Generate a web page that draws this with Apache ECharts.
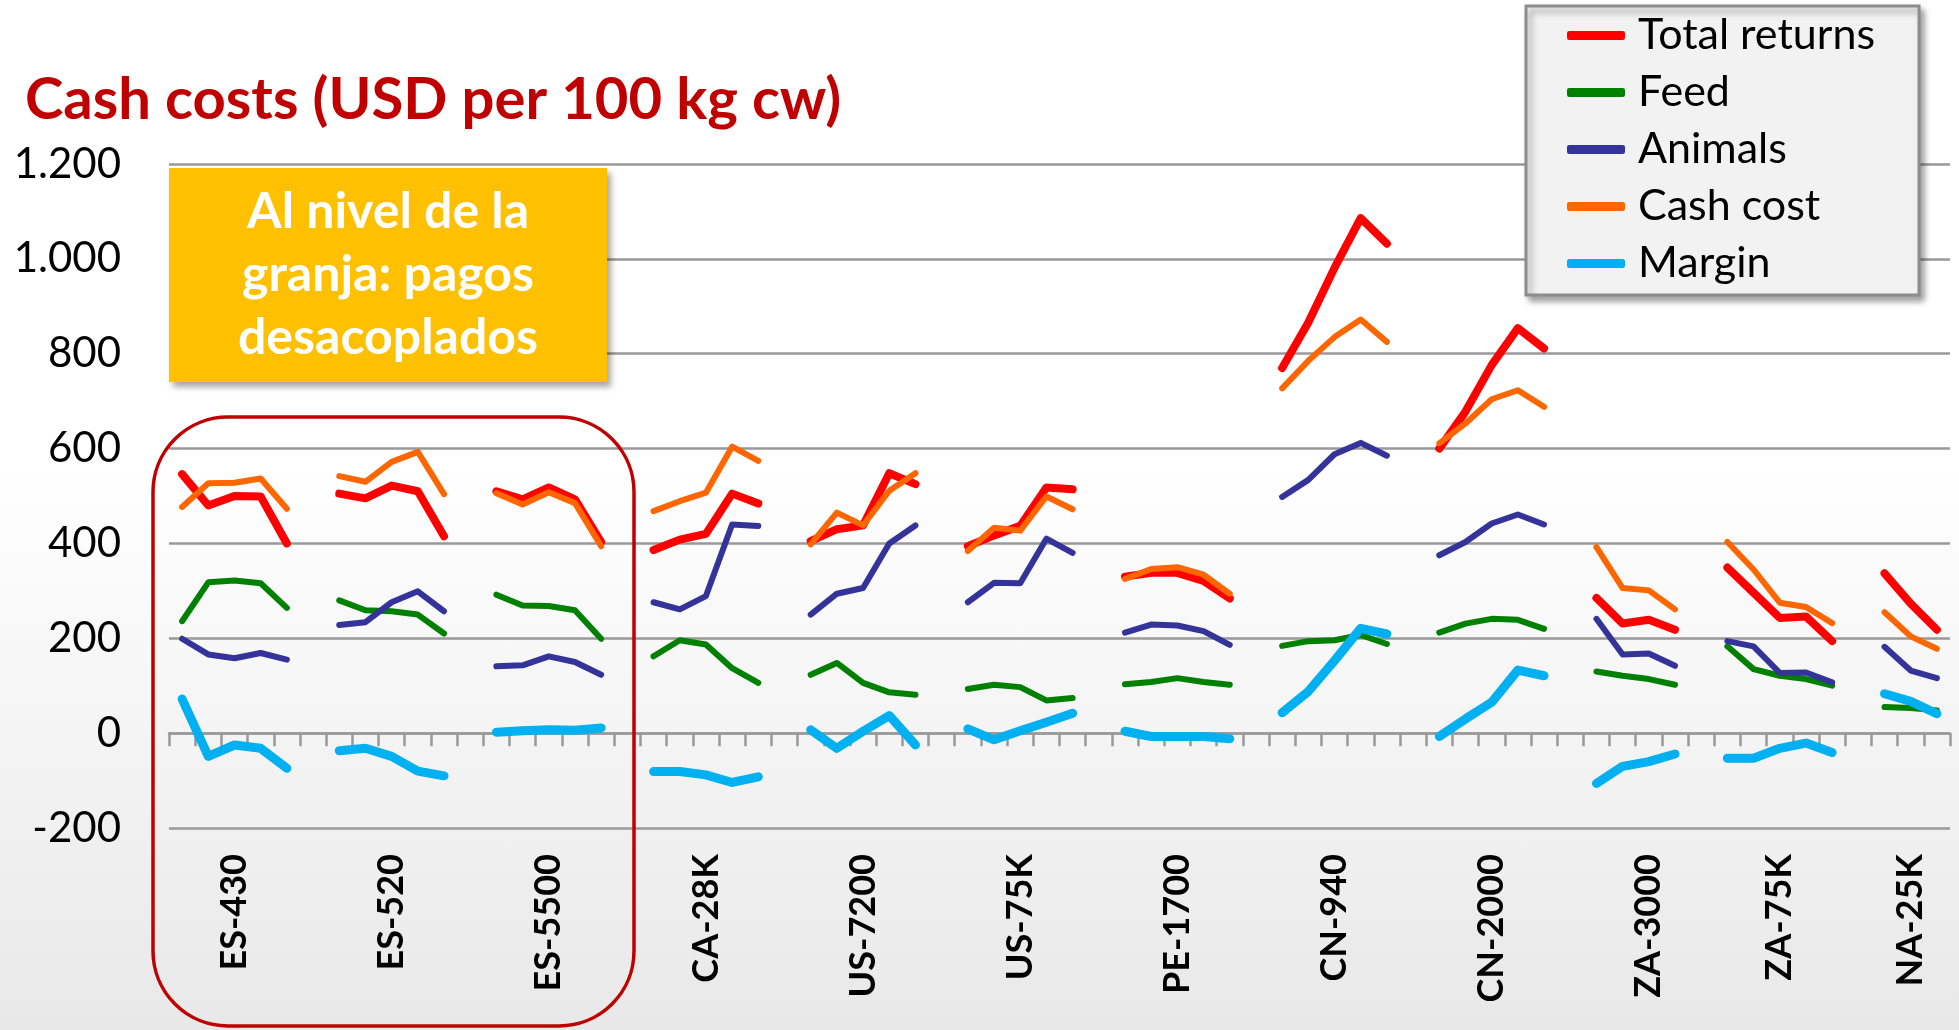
<!DOCTYPE html>
<html>
<head>
<meta charset="utf-8">
<script src="https://cdn.jsdelivr.net/npm/echarts@6/dist/echarts.min.js"></script>
<style>
  html, body { margin: 0; padding: 0; }
  body { width: 1959px; height: 1030px; background: linear-gradient(to bottom, #ffffff 0%, #ffffff 45%, #e8e8e8 100%); }
  #chart { width: 1959px; height: 1030px; }
</style>
</head>
<body>
<div id="chart"></div>
<script>
// farms, each with yearly values (USD per 100 kg carcass weight)
const farms = ['ES-430', 'ES-520', 'ES-5500', 'CA-28K', 'US-7200', 'US-75K', 'PE-1700', 'CN-940', 'CN-2000', 'ZA-3000', 'ZA-75K', 'NA-25K'];

const totalReturns = [
  [546, 480, 500, 499, 400],
  [505, 495, 522, 510, 415],
  [510, 493, 518, 493, 403],
  [386, 408, 420, 505, 484],
  [405, 430, 438, 548, 525],
  [394, 417, 437, 518, 514],
  [330, 338, 338, 321, 284],
  [770, 866, 981, 1086, 1032],
  [600, 678, 776, 854, 811],
  [285, 231, 239, 218],
  [349, 296, 243, 246, 194],
  [337, 273, 218]
];
const feed = [
  [236, 318, 322, 316, 264],
  [280, 259, 257, 250, 210],
  [292, 269, 268, 259, 199],
  [162, 196, 187, 137, 106],
  [123, 148, 106, 86, 81],
  [93, 102, 97, 69, 74],
  [103, 108, 116, 108, 102],
  [184, 194, 196, 207, 188],
  [212, 231, 241, 239, 220],
  [130, 121, 114, 102],
  [183, 135, 121, 114, 100],
  [55, 53, 48]
];
const animals = [
  [199, 166, 158, 169, 155],
  [228, 234, 276, 299, 257],
  [141, 143, 162, 150, 123],
  [276, 261, 289, 440, 437],
  [250, 294, 306, 400, 438],
  [276, 317, 316, 410, 380],
  [212, 229, 227, 215, 186],
  [498, 534, 588, 612, 585],
  [375, 403, 442, 461, 440],
  [241, 166, 168, 142],
  [194, 183, 127, 128, 107],
  [182, 132, 116]
];
const cashCost = [
  [477, 527, 528, 537, 473],
  [542, 530, 572, 593, 504],
  [506, 482, 508, 485, 394],
  [468, 489, 507, 604, 574],
  [398, 465, 438, 511, 548],
  [384, 433, 427, 499, 472],
  [325, 346, 350, 334, 294],
  [727, 785, 835, 872, 825],
  [611, 653, 704, 723, 688],
  [392, 306, 301, 261],
  [403, 345, 275, 266, 232],
  [255, 204, 178]
];
const margin = [
  [72, -49, -25, -32, -74],
  [-37, -32, -49, -80, -90],
  [2, 5, 7, 6, 11],
  [-81, -81, -88, -104, -92],
  [7, -32, 4, 37, -25],
  [9, -14, 5, 23, 42],
  [4, -7, -7, -7, -12],
  [43, 88, 153, 221, 209],
  [-7, 30, 65, 133, 121],
  [-106, -70, -60, -44],
  [-53, -53, -32, -21, -41],
  [83, 67, 41]
];

const yTicks = [-200, 0, 200, 400, 600, 800, 1000, 1200];

// one category slot per year, one empty slot between farms
const categories = [];
const labelAt = [];
farms.forEach((f, k) => {
  if (k > 0) { categories.push('gap' + k); labelAt.push(''); }
  const n = totalReturns[k].length;
  for (let i = 0; i < n; i++) {
    categories.push(f + '_' + i);
    labelAt.push(i === Math.floor(n / 2) ? f : '');
  }
});
function flat(groups) {
  const out = [];
  groups.forEach((g, k) => {
    if (k > 0) out.push(null);
    g.forEach(v => out.push(v));
  });
  return out;
}

const FONT = 'Lato';
const fmt = v => (v < 0 ? '-' : '') + String(Math.abs(v)).replace(/\B(?=(\d{3})+(?!\d))/g, '.');

const mk = (name, data, color, width) => ({
  name, type: 'line', data: flat(data), xAxisIndex: 0,
  symbol: 'none', connectNulls: false,
  lineStyle: { color, width, cap: 'round', join: 'round' },
  itemStyle: { color },
  emphasis: { disabled: true }
});

const chart = echarts.init(document.getElementById('chart'));
const option = {
  animation: false,
  backgroundColor: 'transparent',
  grid: { left: 169, right: 9, top: 164, bottom: 202 },
  legend: {
    orient: 'vertical', left: 1526, top: 6,
    padding: [8, 44, 10, 41],
    itemWidth: 58, itemHeight: 9, itemGap: 14,
    icon: 'roundRect',
    backgroundColor: '#f2f2f2', borderColor: '#8c8c8c', borderWidth: 3,
    shadowColor: 'rgba(0,0,0,0.35)', shadowBlur: 6, shadowOffsetX: 4, shadowOffsetY: 5,
    textStyle: { fontFamily: FONT, fontSize: 43, color: '#000', lineHeight: 40, padding: [0, 0, 0, 8] },
    selectedMode: false
  },
  xAxis: [
    {
      type: 'category', data: categories, boundaryGap: true, position: 'bottom',
      axisLine: { show: false, onZero: false }, axisTick: { show: false },
      splitLine: { show: false },
      axisLabel: {
        interval: 0, rotate: 90, margin: 26,
        fontFamily: FONT, fontWeight: 'bold', fontSize: 36, color: '#000',
        formatter: (v, i) => labelAt[i]
      }
    },
    {
      type: 'category', data: categories, boundaryGap: true, position: 'top',
      axisLine: { show: true, onZero: true, lineStyle: { color: '#999', width: 2.5 } },
      axisTick: { show: true, interval: 0, inside: true, length: 13, lineStyle: { color: '#999', width: 2.5 } },
      axisLabel: { show: false }, splitLine: { show: false }
    }
  ],
  yAxis: {
    type: 'value', min: yTicks[0], max: yTicks[yTicks.length - 1], interval: 200,
    axisLine: { show: false }, axisTick: { show: false },
    splitLine: { lineStyle: { color: '#999', width: 2.5 } },
    axisLabel: { margin: 48, fontFamily: FONT, fontSize: 42, color: '#000', formatter: fmt }
  },
  series: [
    mk('Total returns', totalReturns, '#ff0000', 8),
    mk('Feed', feed, '#008000', 6),
    mk('Animals', animals, '#333399', 6),
    mk('Cash cost', cashCost, '#ff6600', 6),
    mk('Margin', margin, '#00b0f0', 9)
  ],
  graphic: [
    {
      type: 'text', left: 25, top: 71, z: 20,
      style: { text: 'Cash costs (USD per 100 kg cw)', fill: '#c00000', font: 'bold 58px Lato' }
    },
    {
      type: 'rect', shape: { x: 169, y: 168, width: 438, height: 214 }, z: 20,
      style: { fill: '#ffc000', shadowColor: 'rgba(0,0,0,0.35)', shadowBlur: 6, shadowOffsetX: 4, shadowOffsetY: 5 }
    },
    {
      type: 'text', x: 388, y: 275, z: 21,
      style: {
        text: 'Al nivel de la\ngranja: pagos\ndesacoplados', fill: '#fff',
        font: 'bold 50px Lato', lineHeight: 63, align: 'center', verticalAlign: 'middle'
      }
    },
    {
      type: 'rect', shape: { x: 153, y: 417, width: 481, height: 609, r: 75 }, z: 20,
      style: { fill: 'none', stroke: '#c00000', lineWidth: 3.5 }
    }
  ]
};
option && chart.setOption(option);
</script>
</body>
</html>
